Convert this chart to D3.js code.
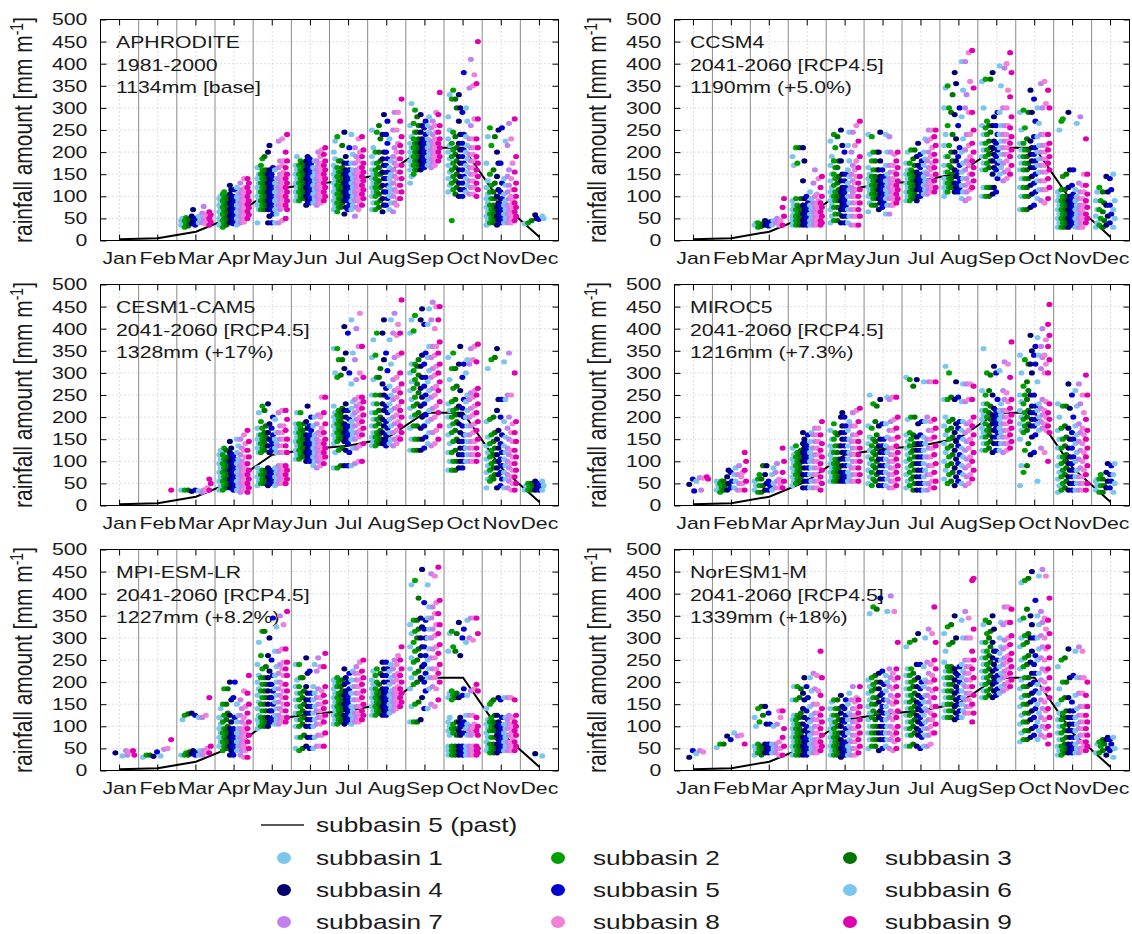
<!DOCTYPE html>
<html>
<head>
<meta charset="utf-8">
<script src="https://cdn.jsdelivr.net/npm/d3@7"></script>
<style>
  body { margin: 0; background: #fff; }
  text { font-family: "Liberation Sans", Arial, sans-serif; fill: #1a1a1a; }
</style>
</head>
<body>
<svg id="chart" width="1132" height="934"></svg>
<script>
// Months on the x axis and y ticks
const months = ["Jan", "Feb", "Mar", "Apr", "May", "Jun", "Jul", "Aug", "Sep", "Oct", "Nov", "Dec"];
const yTicks = [0, 50, 100, 150, 200, 250, 300, 350, 400, 450, 500];

// Subbasin names and their colours
const subbasins = ["subbasin 1", "subbasin 2", "subbasin 3", "subbasin 4", "subbasin 5",
                   "subbasin 6", "subbasin 7", "subbasin 8", "subbasin 9"];
const subColors = ["#7cc6ee", "#00a000", "#007400", "#00006e", "#0000d0",
                   "#7cc6ee", "#c080f0", "#f080d8", "#e000b0"];

// Monthly rainfall of subbasin 5 in the past (black line)
const pastSub5 = [3, 5, 20, 55, 115, 128, 135, 152, 210, 210, 85, 8];

// Panel texts
const panelNames = ["APHRODITE", "CCSM4", "CESM1-CAM5", "MIROC5", "MPI-ESM-LR", "NorESM1-M"];
const panelPeriods = ["1981-2000", "2041-2060 [RCP4.5]", "2041-2060 [RCP4.5]",
                      "2041-2060 [RCP4.5]", "2041-2060 [RCP4.5]", "2041-2060 [RCP4.5]"];
const panelTotals = ["1134mm [base]", "1190mm (+5.0%)", "1328mm (+17%)",
                     "1216mm (+7.3%)", "1227mm (+8.2%)", "1339mm (+18%)"];

// Yearly monthly values: [month][subbasin] -> values (mm)
const aphroditeVals = [
  [[],[],[],[],[],[],[],[],[]],
  [[],[],[],[],[],[],[],[],[]],
  [[35,40,45,50],[30,38,45,52],[33,40,48],[38,45,55,70],[35,42,50],[40,45,55],[40,50,62,77],[38,45,55,60],[35,42,50,58,65]],
  [[35,42,50,58,65,72,80,88,95,100],[30,38,45,52,60,68,75,82,90,98,105,110],[35,42,50,58,65,72,80,88,95,100],[40,48,55,62,70,78,85,95,105,115,125],[38,45,52,60,68,75,82,90,100,115],[35,42,50,58,65,72,80,88,98,108,120],[40,48,55,62,70,78,86,95,105,115,130],[42,50,58,66,74,82,90,100,110,120,140],[50,58,66,74,82,90,100,110,120,130,140]],
  [[40,70,80,90,100,110,120,130,140,150,165],[70,80,90,100,110,120,130,140,150,160,170,185],[70,80,90,100,110,120,130,140,150,160,190],[40,55,70,80,90,100,110,120,130,140,150,160,200,215],[40,60,70,80,90,100,110,120,130,140,150,165],[40,60,70,80,90,100,110,120,130,140,160],[40,70,80,90,100,110,120,130,140,150,165,180,225],[45,75,85,95,105,115,125,135,145,155,170,180,230],[50,70,80,90,100,110,120,130,140,150,165,180,200,240]],
  [[90,100,110,120,130,140,150,160,170,190],[90,100,110,120,130,140,150,160,170,180],[95,105,115,125,135,145,155,165,175],[80,90,100,110,120,130,140,150,160,170,180,190],[85,95,105,115,125,135,145,155,165,175,185],[85,95,105,115,125,135,145,155,165,180],[80,90,100,110,120,130,140,150,160,170,180,200],[85,95,105,115,125,135,145,155,165,175,190,205],[90,100,110,120,130,140,150,160,170,180,195,210]],
  [[70,80,90,100,110,120,130,140,150,160,170,185,200,225],[65,75,85,95,105,115,125,135,145,155,165,180,235],[75,85,95,105,115,125,135,145,155,165,180,215],[60,75,90,100,110,120,130,140,150,160,175,190,245],[70,80,90,100,110,120,130,140,150,160,175,210],[70,80,90,100,110,120,130,140,150,160,175,195,240],[55,75,90,100,110,120,130,140,150,160,175,190,210],[70,85,95,105,115,125,135,145,155,165,180,200,230],[80,95,105,115,125,135,145,155,165,175,190,205,235]],
  [[70,85,100,110,120,130,140,150,160,175,190,210,250],[70,85,100,110,120,130,140,150,160,175,200,245],[75,90,105,120,135,150,165,180,200,230,260],[65,80,95,110,125,140,155,170,185,200,240,285],[80,95,110,125,140,155,170,185,200,220,240,270],[70,85,100,110,120,130,140,150,165,180,230],[65,85,100,115,130,145,160,175,190,210,250,290],[80,95,110,125,140,155,170,185,200,220,250,290],[95,110,125,140,155,170,185,200,215,235,270,320]],
  [[130,145,160,170,180,190,200,210,220,235,260,310],[150,160,170,180,190,200,210,220,230,245,265,295],[160,170,180,190,200,210,220,230,245,260,280],[160,170,180,190,200,210,220,230,245,260,285],[165,175,185,195,205,215,225,240,255,270],[170,180,190,200,210,220,230,245,260,280],[165,175,185,195,205,215,225,240,255,270],[170,180,190,200,210,220,230,245,260,290],[180,190,200,210,220,230,245,260,285,335]],
  [[110,125,140,155,170,185,200,215,230,250,280,330],[45,115,130,145,160,175,190,205,220,245,320,340],[105,120,135,150,165,180,195,210,235,300,320],[100,115,130,145,160,175,190,205,220,240,270,300,330],[100,115,130,145,160,175,190,205,220,240,290,380],[110,125,140,155,170,185,200,215,235,270,300],[105,120,135,150,165,180,195,210,230,260,345,410],[105,120,135,150,165,180,195,210,230,275,350,375],[100,115,130,145,160,175,190,210,230,275,355,450]],
  [[35,45,55,65,75,85,95,105,120,135,175,235],[40,50,60,70,80,95,110,125,150,215,255],[40,50,60,70,80,95,110,130,160,235],[35,45,55,65,75,85,100,115,145,175,200,250],[40,50,60,70,80,95,110,130,175,255],[40,50,60,70,80,90,105,125,140,225],[40,50,60,70,80,95,110,125,145,160,215,265],[40,50,60,70,80,90,100,115,140,175,230],[45,55,65,75,85,100,115,130,155,190,275]],
  [[38],[40],[45],[58,50],[48],[55,50],[],[],[]]
];

const ccsm4Vals = [
  [[],[],[],[],[],[],[],[],[]],
  [[],[],[],[],[],[],[],[],[]],
  [[35,40],[30,35,40],[32,38],[35,40,45],[33,42],[35,45],[40,50],[35,45],[35,55,75,95]],
  [[35,40,45,50,55,60,70,80,90,170,190],[35,40,45,50,55,60,70,80,95,175,210],[35,40,45,50,55,65,75,95,210],[35,40,45,50,60,70,80,95,135,180,210],[35,40,45,50,55,65,75,85,100],[35,40,45,50,60,70,80,95,110],[35,40,45,55,65,75,85,100,130,160],[35,40,45,50,60,70,80,90,105,140],[35,40,45,55,65,75,85,100,120,145]],
  [[40,55,70,80,90,100,110,120,135,150,170,190,225],[45,60,75,90,100,110,125,140,150,165,180,210,240],[45,60,75,90,100,115,130,145,165,180,235],[40,55,70,80,90,100,110,120,135,150,180,215,250],[40,55,70,80,90,100,110,120,135,150,200],[40,55,70,85,100,115,130,145,160,180,215,245],[35,55,70,85,100,110,120,135,150,170,200,245],[35,55,70,85,100,115,130,145,160,180,215,260],[35,55,70,85,100,115,130,145,165,190,225,270]],
  [[65,85,100,110,120,130,140,150,165,195,240],[80,95,105,115,125,135,145,160,180,200,235],[80,95,105,115,125,135,145,160,180,200],[70,85,95,105,115,125,135,145,160,180,200,245],[75,85,95,105,115,125,135,145,160],[60,80,95,105,115,125,135,150,170,200,240],[60,80,95,110,120,130,140,155,170,200,235],[80,90,100,110,120,130,140,155,170,195],[85,95,105,115,125,135,150,165,180,200]],
  [[90,100,110,120,130,140,150,160,175,200],[90,100,110,120,130,140,150,160,175,205],[95,105,115,125,135,145,155,170,185,205],[90,100,115,125,135,145,155,170,190,220],[100,110,120,130,140,150,165,180,195],[105,115,125,135,145,155,170,185,200,230],[105,115,125,135,150,165,180,200,225,250],[110,120,130,145,160,175,190,210,230,250],[110,120,135,150,165,180,195,215,235,250]],
  [[100,110,120,130,140,155,170,190,215,240,300,345],[110,120,130,140,155,170,190,215,260,300,350],[120,130,140,150,165,180,200,240,290,330],[110,120,130,145,160,180,200,230,285,355,380],[110,120,130,140,155,170,190,210,260,300],[95,110,125,140,155,175,200,230,280,340,405],[90,110,125,140,160,180,205,240,300,330,405],[95,115,130,150,170,190,215,240,290,360,425],[120,135,150,165,180,200,220,250,290,345,430]],
  [[100,120,160,175,190,205,220,240,260,300,360],[100,120,160,175,190,205,220,240,255,270,365],[100,120,165,180,195,210,225,245,260,365],[105,120,150,165,180,195,210,225,260,280,380],[110,140,160,175,190,205,220,240,260,290],[150,165,180,195,210,225,240,260,290,350,395],[135,155,175,195,210,225,240,260,300,390],[140,160,180,195,210,225,240,260,300,340,400],[150,170,190,205,220,235,255,280,325,380,425]],
  [[70,100,120,140,160,175,190,205,220,250,290],[70,100,120,140,160,175,190,205,220,255,295],[70,100,120,140,160,175,190,205,230,290],[75,105,125,145,165,180,195,210,225,290,340],[80,110,130,150,165,180,195,210,235,270,320],[95,115,135,155,170,185,200,215,235,265,300],[90,115,135,155,170,185,200,215,240,300,355],[85,115,135,155,170,185,200,215,240,310,360],[95,120,140,160,175,190,205,220,240,300,340]],
  [[30,40,50,60,70,80,90,100,110,250],[30,40,50,60,70,80,90,100,115,145,270,275],[30,40,50,60,70,80,90,100,115,150],[30,40,50,60,70,80,90,100,120,160,290],[35,45,55,65,75,85,95,105,125,160],[30,40,50,60,70,80,90,100,115,265],[30,40,50,60,70,80,95,110,130,280],[30,40,50,60,70,80,95,110,125,150],[40,50,60,75,90,105,125,150,230]],
  [[30,40,55,70,90,110],[35,50,70,90,120],[30,45,65,85,110],[35,55,80,110,145],[40,60,80,115,140],[30,50,70,90,150],[],[],[]]
];

const cesm1Vals = [
  [[],[],[],[],[],[],[],[],[]],
  [[],[],[],[],[],[],[],[],[35]],
  [[35],[35],[35],[32],[35],[33],[30,35],[33,40],[35,50,60]],
  [[35,45,55,65,75,85,95,105,115,125],[35,45,55,65,75,85,95,105,115,130],[40,50,60,70,80,90,100,110,125],[40,50,60,70,80,90,100,110,120,130,145],[35,45,55,65,75,85,95,105,115],[35,45,55,65,75,85,95,105,120,135,150],[30,40,50,60,70,80,90,100,115,130,150],[35,45,55,65,75,85,95,110,125,140,160],[30,40,50,60,70,80,95,110,125,145,170]],
  [[45,55,65,75,85,120,130,140,150,160,175,210],[50,60,70,80,120,130,140,150,160,175,190,225],[50,60,70,80,125,135,145,155,165,180,215],[45,55,65,75,85,120,135,150,165,185,230],[50,60,70,80,125,135,145,160,175,200],[45,55,65,75,85,120,130,140,150,165,195],[50,60,70,80,90,120,135,150,165,180,210],[50,60,70,80,90,120,135,150,165,180,215],[50,60,70,80,90,120,135,150,170,195,215]],
  [[105,115,125,135,145,155,165,175,185,210],[105,115,125,135,145,155,165,175,185,210],[110,120,130,140,150,160,170,185],[100,110,120,130,140,150,160,175,190,225],[100,110,120,130,140,150,160,170,180,200],[90,100,110,120,130,140,150,160,180,200],[85,100,110,120,130,140,150,165,185,205],[90,105,115,125,135,145,160,175,200,245],[95,110,120,130,140,150,165,185,210,245]],
  [[85,120,140,150,160,170,180,190,200,210,225,300,355],[85,125,145,155,165,175,185,195,205,215,290,330,355],[90,130,150,160,170,180,190,200,210,220,295,330],[90,125,145,155,165,175,185,200,215,230,310,345,405],[90,120,140,150,160,170,180,195,215,300,390],[90,130,150,160,170,180,190,205,220,235,275,345,420],[95,130,150,165,180,195,210,225,240,285,330,400],[100,135,155,170,185,200,215,230,245,300,360,435],[100,140,160,175,190,205,220,235,245,290,360]],
  [[135,145,155,165,180,195,210,230,250,285,335,375],[135,145,155,165,180,195,210,230,250,290,340,390],[140,150,160,170,185,200,215,250,290,310],[140,150,165,180,195,215,230,250,275,330,390,420],[135,145,160,175,190,210,225,245,265,305,345],[140,150,165,180,195,215,230,250,270,320,375,420],[135,150,165,185,200,220,240,260,285,335,390,435],[140,155,170,190,205,225,245,265,290,340,385,410],[150,165,180,200,215,235,255,275,300,345,390,465]],
  [[125,150,175,200,220,240,260,280,300,320,390,420],[125,150,180,205,225,245,265,285,305,320,395,430],[125,150,180,210,230,255,275,295,315,330],[125,150,175,200,225,245,265,290,315,340,420,445],[130,155,180,205,230,250,270,290,320,345,410],[140,165,190,215,240,260,280,305,335,360,410,445],[135,165,195,220,245,265,290,310,335,360,420,460],[140,170,200,225,250,270,295,315,340,360,400,450],[150,180,210,235,260,280,300,320,345,370,420,450]],
  [[80,100,120,140,160,180,200,215,230,285,335],[80,100,120,145,165,185,200,215,235,265,310,345],[80,100,125,150,170,190,205,220,240,270,310],[85,100,115,130,145,165,185,205,225,260,320,360],[85,100,115,130,145,160,180,200,220,240,290,320],[100,115,130,145,160,180,200,215,235,250,300,330],[100,115,130,145,160,180,200,220,240,255,320,355],[100,115,130,145,165,185,205,225,245,260,330,360],[100,115,130,150,170,190,210,230,250,265,325,365]],
  [[40,60,75,90,105,120,135,155,190,310],[55,65,80,95,110,125,140,160,195,330],[60,70,85,100,115,130,145,165,200,335],[40,70,85,100,115,130,150,170,215,240,355],[45,60,75,90,105,120,140,160,200,240],[40,60,75,90,105,120,135,155,190,240,325],[40,55,70,85,100,115,130,150,175,200,250,345],[35,50,65,80,95,110,125,145,165,185,250],[35,50,65,80,95,110,125,145,165,190,300]],
  [[35,45],[35,42,50],[35,45,50],[35,45,55],[35,45,50],[35,45,55],[],[],[]]
];

const miroc5Vals = [
  [[],[],[],[48],[60,33],[55],[63,35],[62],[65,60]],
  [[35,45,55],[30,40,50,55],[35,45,55],[35,50,65,80],[40,55,75],[40,55,70,85],[35,50,70,90],[35,50,65,75],[35,55,80,100,120]],
  [[35,45,55],[30,45,60,70],[30,45,60,90],[35,50,70,90],[35,45,55],[35,50,70,85],[40,55,75,95],[40,50,60],[40,55,75,100,130]],
  [[45,55,65,75,85,95,105,115,130],[50,60,70,80,90,100,110,120,135],[55,65,75,85,95,105,115,125],[40,55,70,85,100,110,120,130,140,150,165],[40,55,70,85,100,110,120,130,140,160],[40,55,70,85,100,110,120,130,145,165],[40,55,70,85,100,115,130,145,160,175],[40,55,70,85,100,115,130,145,160,175],[35,50,65,80,95,110,125,140,160,190]],
  [[55,65,75,85,95,105,115,125,135,150,170],[55,65,75,85,95,105,120,135,150,165,185],[55,65,75,85,95,105,120,135,160],[55,65,75,90,105,120,135,150,165,180,200,210],[55,65,75,90,105,120,135,150,165,180,200],[55,65,75,90,105,120,135,150,170,190],[55,70,85,100,115,130,145,160,180,210],[55,70,85,100,115,130,145,160,180,215],[55,70,85,100,115,130,145,165,190,220]],
  [[50,65,80,95,110,125,140,155,180,250],[45,60,75,90,105,120,135,150,175,230],[55,70,85,100,115,130,145,160,190,225],[45,60,75,90,105,120,135,150,180,240],[45,60,75,90,105,120,135,150,185],[45,60,75,90,105,120,135,155,185,245],[40,55,70,85,100,115,130,150,170,190,240],[40,55,70,85,100,115,130,150,170,195,245],[45,60,75,90,105,120,135,155,175,200,245]],
  [[40,55,70,85,100,115,130,145,160,195,290],[45,60,75,90,105,120,135,150,165,200,285],[35,50,65,80,95,110,125,140,160,200,270],[35,50,65,80,95,110,125,140,155,185,285],[35,50,65,80,95,110,125,140,160,190],[35,50,65,80,95,110,125,140,155,190,280],[35,50,70,90,110,130,150,170,200,280],[40,55,70,90,110,130,150,170,190,280],[40,55,75,95,115,135,155,175,195,280]],
  [[60,80,100,120,140,160,180,200,240,315],[50,70,90,110,130,150,170,190,240,300],[55,75,95,115,135,155,175,195,245],[45,65,85,105,125,145,165,185,240,280],[55,75,95,115,135,155,175,190,245],[50,70,90,110,130,150,170,190,235,275],[45,65,85,105,125,145,165,185,235,275],[50,70,90,110,130,150,170,190,240,275],[60,80,100,120,140,160,180,200,240,270]],
  [[125,140,155,165,175,185,195,205,215,230,260,355],[125,140,155,170,185,200,215,230,250,300],[130,145,160,170,180,195,210,225,260,295],[120,140,155,170,185,195,205,220,250,315],[125,140,155,165,175,185,195,205,215,240,300],[125,140,155,165,175,185,195,205,215,230,305],[120,140,155,170,185,200,215,240,260,325],[125,140,155,170,185,200,215,235,255,320],[130,145,160,175,190,205,220,240,290,370]],
  [[45,90,150,170,185,200,215,235,250,300,340],[75,125,165,180,195,210,230,250,270,330],[90,140,170,185,200,215,240,260,280,320],[115,155,180,195,210,225,250,300,320,350,385],[120,160,180,195,210,225,250,320,340,360],[55,170,185,200,215,230,280,340,380],[130,175,190,205,220,240,310,335,360,400],[120,170,185,200,215,235,300,320,340,375],[100,165,180,195,210,230,300,330,360,385,410,455]],
  [[30,45,60,75,90,110,130,150,170,200,230],[35,50,65,80,95,110,130,150,175,225],[40,55,70,85,100,115,135,155,180,225],[35,50,65,80,95,110,130,150,175,220,275],[35,50,65,80,95,110,130,150,165,200,250],[35,50,65,80,100,120,140,160,180,225,260],[35,50,65,85,105,125,145,165,185,230,275],[35,50,65,80,100,120,140,160,175,210,250],[35,50,70,90,110,130,150,170,195,250,295]],
  [[35,45,55,60],[30,45,60,70],[30,45,60],[40,55,75,95],[40,55,70,90],[30,50,70,95],[],[],[]]
];

const mpiVals = [
  [[],[],[],[40],[],[33],[45,35],[42],[45,35]],
  [[30],[35],[35],[32],[42],[33],[48],[50],[70]],
  [[35,115],[35,40,125],[35,42,128],[38,45,130],[35,40,125],[35,45,120],[35,45,120],[40,50,125],[40,55,165]],
  [[55,65,75,85,95,105,120,140],[45,55,65,75,85,95,110,125,150,185],[50,60,70,80,90,100,115,130,150,185],[35,45,55,65,75,85,95,110,125,160,200],[35,45,55,65,75,85,95,120,165,200],[45,55,65,75,85,95,110,125,150],[35,45,55,65,75,85,95,110,125,140,160],[30,45,55,65,75,85,95,105,120,145,180],[30,50,65,80,95,110,130,150,175,215]],
  [[95,105,115,125,140,155,170,185,200,215,240,290],[100,110,120,135,150,165,180,195,210,230,260,315],[100,110,120,135,150,165,180,195,210,235,315],[100,110,120,135,150,165,180,195,210,225,260,300],[110,120,135,150,165,180,195,215,250,345],[105,115,125,140,155,170,185,200,215,235,270,325],[105,115,125,140,155,170,185,200,220,240,270,350],[110,120,135,150,165,180,195,215,230,245,275,330],[110,120,135,150,165,180,195,215,230,245,275,360]],
  [[50,75,100,115,130,145,160,175,190,205,240],[45,75,100,115,130,145,160,175,190,210,240],[50,80,105,120,135,150,165,180,210],[55,75,100,115,130,145,160,175,190,220,255],[50,75,100,115,130,145,160,175,225],[50,75,100,115,130,145,160,175,190,240],[55,80,105,120,135,150,165,185,225,255],[55,80,105,120,135,150,165,180,235],[55,85,110,125,140,155,170,190,235,265]],
  [[105,115,125,135,145,155,165,175,185,195,205],[105,115,125,135,145,155,165,175,190,200,210],[110,120,130,140,150,160,170,180,190,205],[105,115,125,140,150,160,170,180,195,210,230],[110,120,130,140,150,160,170,185,200,220],[105,115,125,135,145,160,175,190,205,225],[110,120,130,145,160,175,190,205,220,235],[110,120,130,145,160,175,190,205,220,245],[115,125,135,150,165,180,195,210,225,250]],
  [[125,135,145,155,165,175,185,195,205,225],[125,135,145,155,165,175,185,200,215,230],[130,140,150,160,170,180,195,220],[125,135,145,155,165,175,185,200,215,230,245],[125,135,145,155,165,175,185,200,215,230,245],[130,140,150,160,170,180,195,210,225,240],[135,145,155,165,175,185,200,215,230,250],[140,150,160,170,180,190,205,220,240,260],[145,155,165,175,185,200,215,230,250,280]],
  [[110,145,185,210,230,255,280,310,330,420],[110,150,195,220,245,270,290,315,340,430],[110,155,200,225,250,275,300,320,340,390],[115,165,210,235,260,280,300,325,345,455],[140,180,200,220,240,260,280,300,320,340,380],[140,185,210,230,250,275,300,320,345,370,420],[150,190,210,230,255,275,300,320,345,370,445],[145,185,210,230,255,280,305,330,355,380,440],[160,200,220,240,265,285,310,330,355,385,460]],
  [[35,40,45,50,55,80,90,100,110,120,165,175,270,310],[35,40,45,50,55,85,95,105,160,170,180,280,315],[35,40,45,50,55,80,95,110,165,175,270,310],[35,40,45,50,55,80,90,100,110,120,165,260,335],[35,40,45,50,55,85,100,110,170,185,300,320],[35,40,45,50,55,80,95,105,125,170,290,340],[35,40,45,50,55,80,90,100,125,180,300,345],[35,40,45,50,55,85,95,105,125,185,295,345],[35,40,45,50,55,80,90,100,120,180,195,310,345]],
  [[45,55,65,75,85,95,105,115,140],[40,50,60,75,90,100,110,120,150,155],[40,50,60,75,90,100,110,125,160],[40,50,60,70,80,90,100,110,125,165],[45,55,65,75,85,95,105,120,160],[45,55,65,75,85,95,105,120,165],[45,55,65,80,95,105,115,125,165],[45,55,65,75,85,95,105,120,165],[45,55,65,80,90,100,110,125,160]],
  [[],[],[],[38],[],[33],[],[],[]]
];

const noresmVals = [
  [[],[],[],[30],[45],[38],[45],[42],[]],
  [[52],[60],[60],[78],[70],[85],[78],[80],[60]],
  [[35,45,55,100,120],[40,50,60,110,140],[35,45,55,125,145],[40,50,60,105,145],[40,50,60,105,130],[40,50,60,100],[40,50,60,105],[35,50,65,120,135],[35,55,75,95,135]],
  [[35,45,55,65,75,85,95,105,115,125,160,190],[35,45,55,65,75,85,95,105,115,125,160,190],[35,45,55,65,75,85,95,105,120,130,165,185],[35,45,55,65,75,90,105,120,140,160,175,210],[35,45,55,65,75,85,100,115,135,165,190],[40,50,60,70,80,95,110,125,145,180,210],[40,50,60,70,85,100,115,130,150,185,220],[40,50,60,70,85,100,115,130,150,180,215],[45,55,65,80,95,110,125,140,170,210,270]],
  [[35,45,55,65,75,85,95,105,115,125,140,155],[35,45,55,65,75,85,95,110,125,140,160],[35,45,55,65,75,85,100,115,125,140,160],[30,40,50,60,70,85,100,115,130,145,170],[35,45,55,65,80,95,110,125,140,160],[35,45,55,70,85,100,115,130,150,175],[35,50,65,80,95,110,125,140,160,190],[35,50,65,80,95,110,125,140,155,165],[40,55,70,85,100,115,130,145,160,190]],
  [[50,70,85,100,115,130,145,160,175,190,205,355],[55,70,85,100,120,135,150,165,180,195,210,370],[55,70,85,100,115,130,150,165,185,200,215,365],[45,70,85,100,120,135,155,170,185,200,220,390],[50,70,85,100,115,130,145,160,175,195,225],[55,70,85,100,115,130,145,160,180,200,215,360],[50,70,85,100,120,135,155,170,190,210,230,395],[45,65,80,95,115,130,150,165,185,205,220,360],[50,70,85,100,120,135,155,170,190,210,230,290]],
  [[55,80,95,110,125,140,155,170,185,200,215,230,280],[55,80,95,110,125,140,155,170,185,200,215,230,290],[60,85,100,115,130,145,160,175,190,205,220,295],[55,80,95,110,125,140,155,170,190,210,240,310],[50,75,90,105,120,135,150,165,185,200,240],[55,80,95,110,125,140,155,170,190,205,235,300],[55,80,95,115,135,155,170,185,200,220,245,320],[60,85,100,115,130,145,165,180,200,215,240,310],[85,105,125,145,165,185,205,230,250,290,370]],
  [[120,135,150,165,180,195,210,225,245,270,310],[120,135,150,165,180,195,210,225,235,285,325],[120,135,150,165,180,195,210,225,235,290,330],[115,130,145,160,175,190,205,220,230,300,350],[120,135,150,165,180,200,215,235],[120,135,150,165,180,195,210,225,240,300,340],[130,145,160,175,190,205,220,235,250,300,360],[130,145,160,175,190,205,220,235,250,300,345],[110,130,150,170,190,210,230,250,270,320,430,435]],
  [[165,180,195,210,225,240,255,270,290,330],[165,180,195,210,225,240,255,270,290,310,340],[170,185,200,215,230,245,260,280,300,315,335],[165,180,195,210,225,240,255,270,290,320,350],[170,185,200,215,230,250,270],[175,190,205,220,235,250,265,280,300,335],[180,195,210,225,240,255,275,295,330,370],[185,200,215,230,245,260,280,300,335,370],[190,205,220,235,250,265,285,305,335,365]],
  [[65,85,105,125,145,165,185,205,230,250,280,300,340,425],[70,90,110,130,150,170,190,210,235,255,285,305,345,430],[70,90,110,130,150,170,190,210,240,260,290,310,365,435],[75,95,115,135,155,175,195,220,245,270,300,330,350,450],[80,100,120,140,160,180,200,220,240,260,300,385],[70,90,110,130,150,175,195,220,250,275,300,330,350,440],[80,100,120,140,160,185,205,230,255,280,305,335,360,455],[75,95,115,135,155,180,200,225,250,275,300,320,345,440],[60,80,100,120,140,165,185,210,230,255,280,310,340,390]],
  [[35,45,55,70,85,100,115,130,150,185,235],[35,45,55,70,85,100,115,130,160,200,250],[40,50,60,75,90,105,120,135,165,200,255],[40,50,60,75,90,105,120,135,165,210,275],[40,50,60,75,90,105,120,135,155,215],[40,50,60,75,90,105,120,140,170,210,270],[40,50,65,80,95,110,125,145,175,210,280],[45,55,65,80,95,110,125,145,175,210,270],[45,55,65,80,95,110,125,145,170,200]],
  [[40,60],[40,55,65],[45,60,70],[35,50,70,75],[45,60,70],[30,50,75],[],[],[]]
];

const panelVals = [aphroditeVals, ccsm4Vals, cesm1Vals, miroc5Vals, mpiVals, noresmVals];

// Layout (the source figure is stretched horizontally, so texts and dots are too)
const S = 1.25;
const colLeft = [100.5, 674.5];
const colWidth = [458, 455];
const rowTop = [19.5, 284.5, 549.5];
const plotH = 221;

const svg = d3.select("#chart");
const stretch = (x, y) => `translate(${x},${y}) scale(${S},1)`;

panelVals.forEach((vals, pi) => {
    const left = colLeft[pi % 2];
    const top = rowTop[Math.floor(pi / 2)];
    const w = colWidth[pi % 2];

    const g = svg.append("g").attr("transform", `translate(${left},${top})`);

    const x = d3.scaleBand().domain(months).range([0, w]);
    const y = d3.scaleLinear().domain([0, 500]).range([plotH, 0]);
    // position of each subbasin column inside a month
    const xs = d3.scalePoint().domain(d3.range(9)).range([x.bandwidth() * 0.13, x.bandwidth() * 0.87]);
    const mid = m => x(m) + x.bandwidth() / 2;

    // dotted grid
    g.append("g").selectAll("line").data(yTicks.slice(1, -1)).join("line")
        .attr("x1", 0).attr("x2", w)
        .attr("y1", d => y(d)).attr("y2", d => y(d))
        .attr("stroke", "#bdbdbd").attr("stroke-dasharray", "1,3");
    g.append("g").selectAll("line").data(months).join("line")
        .attr("x1", mid).attr("x2", mid)
        .attr("y1", 0).attr("y2", plotH)
        .attr("stroke", "#bdbdbd").attr("stroke-dasharray", "1,3");

    // month separators
    g.append("g").selectAll("line").data(months.slice(1)).join("line")
        .attr("x1", d => x(d)).attr("x2", d => x(d))
        .attr("y1", 0).attr("y2", plotH)
        .attr("stroke", "#8a8a8a").attr("stroke-width", 1);

    // panel label
    [panelNames[pi], panelPeriods[pi], panelTotals[pi]].forEach((t, i) => {
        g.append("text")
            .attr("transform", stretch(15.5, 28.8 + i * 22.4))
            .attr("font-size", 17)
            .text(t);
    });

    // past line of subbasin 5
    const line = d3.line().x((d, i) => mid(months[i])).y(d => y(d));
    g.append("path").datum(pastSub5)
        .attr("d", line)
        .attr("fill", "none")
        .attr("stroke", "#000")
        .attr("stroke-width", 2);

    // dots
    const pts = [];
    vals.forEach((mv, mi) => mv.forEach((sv, si) => sv.forEach((v, k) => {
        pts.push({ m: months[mi], s: si, v: v, k: k });
    })));
    pts.sort((a, b) => a.s - b.s);

    g.append("g").selectAll("ellipse").data(pts).join("ellipse")
        .attr("cx", d => x(d.m) + xs(d.s) + (d.k % 2 ? 0.7 : -0.7))
        .attr("cy", d => y(d.v))
        .attr("rx", 3.0)
        .attr("ry", 2.6)
        .attr("fill", d => subColors[d.s]);

    // frame
    g.append("rect")
        .attr("width", w).attr("height", plotH)
        .attr("fill", "none").attr("stroke", "#000");

    // axes with inward ticks
    const tidy = a => {
        a.select(".domain").remove();
        a.attr("font-size", 17).attr("font-family", null).attr("color", "#1a1a1a");
        a.selectAll("line").attr("stroke", "#000");
    };
    g.append("g")
        .call(d3.axisLeft(y).tickValues(yTicks).tickSize(-6).tickPadding(10.5))
        .call(tidy)
        .selectAll("text").attr("transform", `scale(${S},1)`);
    g.append("g")
        .attr("transform", `translate(${w},0)`)
        .call(d3.axisRight(y).tickValues(yTicks).tickSize(-6).tickFormat(""))
        .call(tidy);
    g.append("g")
        .attr("transform", `translate(0,${plotH})`)
        .call(d3.axisBottom(x).tickSize(-6).tickPadding(11.5))
        .call(tidy)
        .selectAll("text").attr("transform", `scale(${S},1)`);
    g.append("g")
        .call(d3.axisTop(x).tickSize(-6).tickFormat(""))
        .call(tidy);

    // y axis title
    const title = svg.append("text")
        .attr("transform", `translate(${left - 68.5},${top + plotH / 2}) scale(${S},1) rotate(-90)`)
        .attr("text-anchor", "middle")
        .attr("font-size", 21);
    title.append("tspan").text("rainfall amount [mm m");
    title.append("tspan").attr("baseline-shift", "super").attr("font-size", 14).text("-1");
    title.append("tspan").text("]");
});

// Legend
const legend = svg.append("g");
legend.append("line")
    .attr("x1", 261).attr("x2", 304).attr("y1", 825).attr("y2", 825)
    .attr("stroke", "#222").attr("stroke-width", 1.5);
legend.append("text")
    .attr("transform", stretch(316, 825))
    .attr("dy", "0.35em")
    .attr("font-size", 21)
    .text("subbasin 5 (past)");

const legMarkX = [284, 558, 850];
const legTextX = [316, 593, 885];
subbasins.forEach((s, i) => {
    const cy = 858 + Math.floor(i / 3) * 32;
    legend.append("ellipse")
        .attr("cx", legMarkX[i % 3]).attr("cy", cy)
        .attr("rx", 7).attr("ry", 6)
        .attr("fill", subColors[i]);
    legend.append("text")
        .attr("transform", stretch(legTextX[i % 3], cy))
        .attr("dy", "0.35em")
        .attr("font-size", 21)
        .text(s);
});
</script>
</body>
</html>
